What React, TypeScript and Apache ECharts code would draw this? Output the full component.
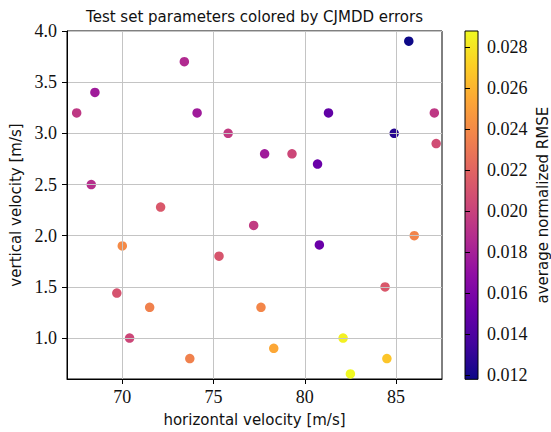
import React, { useEffect, useRef } from "react";
import * as echarts from "echarts";

// horizontal velocity [m/s], vertical velocity [m/s], average normalized RMSE
const hVel = [67.5, 68.5, 73.4, 74.1, 75.8, 77.8, 68.3, 72.1, 85.7, 81.3, 87.1, 84.9, 87.2, 79.3, 80.7,
  77.2, 70.0, 75.3, 69.7, 71.5, 77.6, 70.4, 73.7, 78.3, 86.0, 80.8, 84.4, 82.1, 84.5, 82.5];
const vVel = [3.2, 3.4, 3.7, 3.2, 3.0, 2.8, 2.5, 2.28, 3.9, 3.2, 3.2, 3.0, 2.9, 2.8, 2.7,
  2.1, 1.9, 1.8, 1.44, 1.3, 1.3, 1.0, 0.8, 0.9, 2.0, 1.91, 1.5, 1.0, 0.8, 0.65];
const rmse = [0.0194, 0.0177, 0.0186, 0.0177, 0.0196, 0.0177, 0.0189, 0.0213, 0.01179, 0.0148, 0.0194, 0.0126, 0.0206, 0.0203, 0.0152,
  0.0196, 0.0240, 0.0211, 0.0210, 0.0235, 0.0238, 0.0203, 0.0235, 0.0254, 0.0237, 0.0152, 0.0213, 0.0284, 0.0267, 0.02877];

const xTicks = [70, 75, 80, 85];
const yTicks = [1.0, 1.5, 2.0, 2.5, 3.0, 3.5, 4.0];
const cTicks = [0.012, 0.014, 0.016, 0.018, 0.02, 0.022, 0.024, 0.026, 0.028];
const plasma = ["#0d0887", "#41049d", "#6a00a8", "#8f0da4", "#b12a90", "#cc4778", "#e16462", "#f2844b", "#fca636", "#fcce25", "#f0f921"];

const X_MIN = 66.97, X_MAX = 87.52, Y_MIN = 0.6, Y_MAX = 4.0, C_MIN = 0.01179, C_MAX = 0.02877;

const pick = (list: number[], v: number, digits: number) => {
  const hit = list.find((t) => Math.abs(t - v) < 1e-7);
  return hit === undefined ? "" : hit.toFixed(digits);
};

export default function App() {
  const ref = useRef<HTMLDivElement>(null);
  useEffect(() => {
    if (!ref.current) return;
    const chart = echarts.init(ref.current, null, { renderer: "svg" });
    const serif = "Liberation Serif";
    const sans = "DejaVu Sans";
    const ink = "#111";
    const data = hVel.map((x, i) => [x, vVel[i], rmse[i]]);
    const gradient = new echarts.graphic.LinearGradient(0, 1, 0, 0,
      plasma.map((c, i) => ({ offset: i / (plasma.length - 1), color: c })));
    chart.setOption({
      animation: false,
      backgroundColor: "#fff",
      title: {
        text: "Test set parameters colored by CJMDD errors",
        left: 254.5, top: 9, padding: 0, textAlign: "center",
        textStyle: { fontFamily: sans, fontSize: 15, fontWeight: "normal", color: ink },
      },
      grid: [
        { left: 67, top: 31, width: 375, height: 348.3, show: true, borderColor: "#000", borderWidth: 1, backgroundColor: "transparent" },
        { left: 465, top: 31, width: 18, height: 348.3, show: true, borderColor: "#000", borderWidth: 1, backgroundColor: gradient },
      ],
      xAxis: [
        {
          gridIndex: 0, type: "value", min: X_MIN, max: X_MAX, splitNumber: 4, z: 5,
          name: "horizontal velocity [m/s]", nameLocation: "middle", nameGap: 33,
          nameTextStyle: { fontFamily: sans, fontSize: 15, color: ink },
          axisLine: { show: true, onZero: false, lineStyle: { color: "#000", width: 1 } },
          axisTick: { show: true, length: 5, customValues: xTicks, lineStyle: { color: "#000" } },
          axisLabel: {
            show: true, margin: 9, fontFamily: serif, fontSize: 18, color: ink,
            showMinLabel: false, showMaxLabel: false,
            formatter: (v: number) => pick(xTicks, v, 0),
          },
          splitLine: { show: true, lineStyle: { color: "#c4c4c4", width: 1 } },
        },
        { gridIndex: 1, type: "value", min: 0, max: 1, show: false },
      ],
      yAxis: [
        {
          gridIndex: 0, type: "value", min: Y_MIN, max: Y_MAX, splitNumber: 7, z: 5,
          name: "vertical velocity [m/s]", nameLocation: "middle", nameGap: 35, nameRotate: 90,
          nameTextStyle: { fontFamily: sans, fontSize: 15, color: ink },
          axisLine: { show: true, onZero: false, lineStyle: { color: "#000", width: 1 } },
          axisTick: { show: true, length: 5, customValues: yTicks, lineStyle: { color: "#000" } },
          axisLabel: {
            show: true, margin: 10, fontFamily: serif, fontSize: 18, color: ink,
            showMinLabel: false, showMaxLabel: true,
            formatter: (v: number) => pick(yTicks, v, 1),
          },
          splitLine: { show: true, lineStyle: { color: "#c4c4c4", width: 1 } },
        },
        {
          gridIndex: 1, type: "value", min: C_MIN, max: C_MAX, splitNumber: 8, position: "right",
          name: "average normalized RMSE", nameLocation: "middle", nameGap: 57, nameRotate: 90,
          nameTextStyle: { fontFamily: sans, fontSize: 15, color: ink },
          axisLine: { show: false },
          axisTick: { show: true, length: 5, customValues: cTicks, lineStyle: { color: "#000" } },
          axisLabel: {
            show: true, margin: 9, fontFamily: serif, fontSize: 18, color: ink,
            showMinLabel: false, showMaxLabel: false,
            formatter: (v: number) => pick(cTicks, v, 3),
          },
          splitLine: { show: false },
        },
      ],
      visualMap: {
        type: "continuous", show: false, seriesIndex: 0, dimension: 2,
        min: C_MIN, max: C_MAX, inRange: { color: plasma },
      },
      series: [
        {
          type: "scatter", xAxisIndex: 0, yAxisIndex: 0, z: 2,
          symbolSize: 9.5, data,
          itemStyle: { opacity: 1 },
        },
      ],
    });
    return () => chart.dispose();
  }, []);
  return <div ref={ref} style={{ width: 551, height: 432, position: "absolute", left: 0, top: 0 }} />;
}
